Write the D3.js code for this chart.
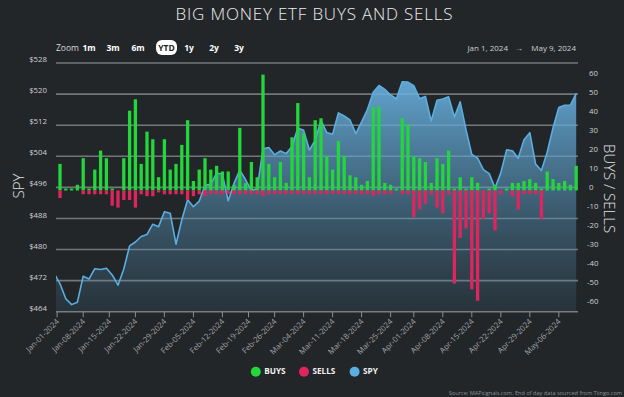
<!DOCTYPE html>
<html><head><meta charset="utf-8">
<script src="https://cdn.jsdelivr.net/npm/d3@7"></script>
<style>
html,body{margin:0;padding:0;background:#222629;}
svg{display:block;}
text{font-family:"Open Sans",sans-serif;}
</style></head><body>
<svg id="c" width="624" height="397"></svg>
<script>
// ---------- DATA ----------
const dates = ["2023-12-29",
"2024-01-02","2024-01-03","2024-01-04","2024-01-05","2024-01-08","2024-01-09","2024-01-10","2024-01-11","2024-01-12","2024-01-16","2024-01-17","2024-01-18","2024-01-19","2024-01-22","2024-01-23","2024-01-24","2024-01-25","2024-01-26","2024-01-29","2024-01-30","2024-01-31",
"2024-02-01","2024-02-02","2024-02-05","2024-02-06","2024-02-07","2024-02-08","2024-02-09","2024-02-12","2024-02-13","2024-02-14","2024-02-15","2024-02-16","2024-02-20","2024-02-21","2024-02-22","2024-02-23","2024-02-26","2024-02-27","2024-02-28","2024-02-29",
"2024-03-01","2024-03-04","2024-03-05","2024-03-06","2024-03-07","2024-03-08","2024-03-11","2024-03-12","2024-03-13","2024-03-14","2024-03-15","2024-03-18","2024-03-19","2024-03-20","2024-03-21","2024-03-22","2024-03-25","2024-03-26","2024-03-27","2024-03-28",
"2024-04-01","2024-04-02","2024-04-03","2024-04-04","2024-04-05","2024-04-08","2024-04-09","2024-04-10","2024-04-11","2024-04-12","2024-04-15","2024-04-16","2024-04-17","2024-04-18","2024-04-19","2024-04-22","2024-04-23","2024-04-24","2024-04-25","2024-04-26","2024-04-29","2024-04-30",
"2024-05-01","2024-05-02","2024-05-03","2024-05-06","2024-05-07","2024-05-08","2024-05-09"];

const spy = [473.83,
471.18,467.33,465.82,466.46,473.12,472.40,475.07,474.86,475.19,473.45,470.82,475.00,480.92,481.94,483.35,483.88,486.51,485.89,489.74,489.36,481.37,
487.67,492.81,491.01,492.44,496.55,496.77,499.64,499.42,492.54,497.01,500.44,497.95,495.21,495.66,505.92,506.27,504.41,505.35,504.68,506.49,
511.25,510.70,505.60,508.16,513.20,510.12,509.69,515.17,514.36,513.34,509.83,512.86,516.03,520.48,522.20,521.21,519.77,518.81,523.17,523.07,
522.16,518.84,519.41,513.07,518.43,518.72,519.32,514.12,518.00,510.85,504.45,503.53,500.55,499.52,495.80,499.72,505.65,505.41,503.49,508.26,510.06,501.98,
500.35,505.03,511.29,516.57,517.14,517.19,520.17];

const buys = [null,
14,1,1,3,17,1,11,21,17,1,0,17,42,48,14,31,27,7,27,11,14,24,37,
5,11,17,11,13,10,10,3,33,4,15,7,61,14,7,15,4,28,46,30,7,37,38,
18,11,26,18,8,7,3,5,44,44,4,3,1,38,35,18,17,15,4,17,14,21,
1,7,1,7,4,0,1,3,0,1,4,4,5,6,4,1,10,6,4,5,3,13];

const sells = [null,
-4,0,0,0,-2,-2,-2,-2,-2,-8,-9,-5,-5,-9,-2,-3,-3,-1,-2,-2,-2,-2,-5,
-3,-2,-3,-2,-2,-2,-2,-2,-2,-2,-2,-2,-3,-2,-2,-2,-2,-2,-2,-2,-2,-2,-2,
-2,-2,-2,-2,-2,-2,-2,-2,-3,-2,-2,-2,0,-2,-2,-14,-10,-7,-2,-9,-12,-2,
-49,-25,-20,-52,-58,-15,-12,-21,-2,0,-3,-10,-2,-2,-2,-15,0,0,0,0,0,0];

const leftTicks = [464,472,480,488,496,504,512,520,528];
const rightTicks = [-60,-50,-40,-30,-20,-10,0,10,20,30,40,50,60];
const xTickLabels = ["Jan-01-2024","Jan-08-2024","Jan-15-2024","Jan-22-2024","Jan-29-2024","Feb-05-2024","Feb-12-2024","Feb-19-2024","Feb-26-2024","Mar-04-2024","Mar-11-2024","Mar-18-2024","Mar-25-2024","Apr-01-2024","Apr-08-2024","Apr-15-2024","Apr-22-2024","Apr-29-2024","May-06-2024"];
const zoomButtons = ["1m","3m","6m","YTD","1y","2y","3y"];
const legendNames = ["BUYS","SELLS","SPY"];
const legendColors = ["#22d63b","#e0245e","#5aaee0"];

// ---------- LAYOUT ----------
const svg = d3.select("#c");
const P = {left:56, right:578, top:63, bottom:311.7};
const GREEN="#22d63b", RED="#e0245e", BLUE="#5aaee0";

const x = d3.scalePoint().domain(dates).range([54.2, 576.2]);
const yL = d3.scaleLinear().domain([464,528]).range([P.bottom, P.top]);
const yR = d3.scaleLinear().domain([-63.8,67.1]).range([P.bottom, P.top]);

svg.append("rect").attr("width",624).attr("height",397).attr("fill","#222629");

const defs = svg.append("defs");
defs.append("clipPath").attr("id","clip").append("rect")
  .attr("x",P.left).attr("y",P.top-2).attr("width",P.right-P.left).attr("height",P.bottom-P.top+2);
const grad = defs.append("linearGradient").attr("id","ag").attr("gradientUnits","userSpaceOnUse")
  .attr("x1",0).attr("x2",0).attr("y1",P.top).attr("y2",P.bottom);
grad.append("stop").attr("offset","0").attr("stop-color","#6cb8ea").attr("stop-opacity",0.95);
grad.append("stop").attr("offset","1").attr("stop-color","#4a7f9e").attr("stop-opacity",0.15);

// title
svg.append("text").attr("x",314.5).attr("y",19.5).attr("text-anchor","middle")
  .attr("fill","#ececec").attr("font-size",17).attr("letter-spacing",0.8).attr("font-weight",300).text("BIG MONEY ETF BUYS AND SELLS");

// zoom row
svg.append("text").attr("x",56).attr("y",51).attr("fill","#d8d8d8").attr("font-size",8.5).text("Zoom");
const zx = [89,113,138,166.5,189,214,239];
zoomButtons.forEach((b,i)=>{
  if(b==="YTD"){
    svg.append("rect").attr("x",156).attr("y",40).attr("width",21).attr("height",15).attr("rx",6).attr("fill","#ffffff");
  }
  svg.append("text").attr("x",zx[i]).attr("y",51).attr("text-anchor","middle")
    .attr("fill",b==="YTD"?"#222629":"#ffffff").attr("font-size",8.5).attr("font-weight",700).text(b);
});
svg.append("text").attr("x",508).attr("y",50.5).attr("text-anchor","end").attr("fill","#d0d0d0").attr("font-size",8).text("Jan 1, 2024");
svg.append("text").attr("x",519).attr("y",50.5).attr("text-anchor","middle").attr("fill","#d0d0d0").attr("font-size",8).text("→");
svg.append("text").attr("x",576).attr("y",50.5).attr("text-anchor","end").attr("fill","#d0d0d0").attr("font-size",8).text("May 9, 2024");

// gridlines (left axis)
svg.append("g").selectAll("line").data(leftTicks.filter(d=>d>464)).join("line")
  .attr("x1",P.left).attr("x2",P.right).attr("y1",d=>yL(d)).attr("y2",d=>yL(d))
  .attr("stroke","#74777a").attr("stroke-width",1.6);

// area + line
const g = svg.append("g").attr("clip-path","url(#clip)");
const pts = dates.map((d,i)=>({d, v:spy[i]}));
g.append("path").datum(pts)
  .attr("d", d3.area().x(p=>x(p.d)).y0(P.bottom).y1(p=>yL(p.v)))
  .attr("fill","url(#ag)");
g.append("path").datum(pts)
  .attr("d", d3.line().x(p=>x(p.d)).y(p=>yL(p.v)))
  .attr("fill","none").attr("stroke",BLUE).attr("stroke-width",1.6).attr("stroke-linejoin","round");

// bars
const bw = 3.3;
const barData = dates.map((d,i)=>({d, b:buys[i], s:sells[i]})).filter(o=>o.b!==null);
g.append("g").selectAll("rect").data(barData.filter(o=>o.b>0)).join("rect")
  .attr("x",o=>x(o.d)-bw/2).attr("width",bw)
  .attr("y",o=>yR(o.b)).attr("height",o=>yR(0)-yR(o.b)).attr("fill",GREEN);
g.append("g").selectAll("rect").data(barData.filter(o=>o.s<0)).join("rect")
  .attr("x",o=>x(o.d)-bw/2).attr("width",bw)
  .attr("y",yR(0)).attr("height",o=>yR(o.s)-yR(0)).attr("fill",RED);

// bottom axis
svg.append("line").attr("x1",P.left).attr("x2",P.right).attr("y1",P.bottom).attr("y2",P.bottom)
  .attr("stroke","#7a7d80").attr("stroke-width",1.6);
const parseTick = d3.timeParse("%b-%d-%Y"), iso = d3.timeFormat("%Y-%m-%d");
function tickX(lbl){
  const dt = parseTick(lbl), s = iso(dt);
  if(dates.includes(s)) return x(s);
  let prev=null, next=null;
  for(const d of dates){ if(d<s) prev=d; else if(next===null) next=d; }
  return (x(prev)+x(next))/2;
}
const xa = svg.append("g");
xTickLabels.forEach(l=>{
  const tx = tickX(l);
  xa.append("line").attr("x1",tx).attr("x2",tx).attr("y1",P.bottom).attr("y2",P.bottom+5.5)
    .attr("stroke","#8a8d90").attr("stroke-width",1);
  xa.append("text").attr("transform",`translate(${tx+1},${P.bottom+9}) rotate(-45)`)
    .attr("text-anchor","end").attr("dominant-baseline","middle")
    .attr("fill","#a2a5a8").attr("font-size",7.8).text(l);
});

// left axis labels
svg.append("g").selectAll("text").data(leftTicks).join("text")
  .attr("x",47).attr("y",d=>yL(d)-3).attr("text-anchor","end").attr("dominant-baseline","middle")
  .attr("fill","#cfd1d3").attr("font-size",7.8).text(d=>"$"+d);
svg.append("text").attr("transform","translate(18,186) rotate(-90)").attr("text-anchor","middle")
  .attr("dominant-baseline","central").attr("fill","#e4e4e4").attr("font-size",15).attr("font-weight",300).text("SPY");

// right axis labels
svg.append("g").selectAll("text").data(rightTicks).join("text")
  .attr("x",d=>d<0?587:589).attr("y",d=>yR(d)-3).attr("text-anchor","start").attr("dominant-baseline","middle")
  .attr("fill","#cfd1d3").attr("font-size",7.8).text(d=>String(d));
svg.append("text").attr("transform","translate(609.5,188.5) rotate(90)").attr("text-anchor","middle")
  .attr("dominant-baseline","central").attr("fill","#e4e4e4").attr("font-size",15).attr("font-weight",300).text("BUYS / SELLS");

// legend
const lx = [255.8,304,354.6];
legendNames.forEach((n,i)=>{
  svg.append("circle").attr("cx",lx[i]).attr("cy",371.7).attr("r",5).attr("fill",legendColors[i]);
  svg.append("text").attr("x",lx[i]+8.5).attr("y",371.9).attr("dominant-baseline","middle")
    .attr("fill","#f2f2f2").attr("font-size",8.2).attr("font-weight",700).text(n);
});

// source
svg.append("text").attr("x",622).attr("y",394.5).attr("text-anchor","end").attr("fill","#8d9093")
  .attr("font-size",5.6).text("Source: MAPsignals.com. End of day data sourced from Tiingo.com");
</script>
</body></html>
